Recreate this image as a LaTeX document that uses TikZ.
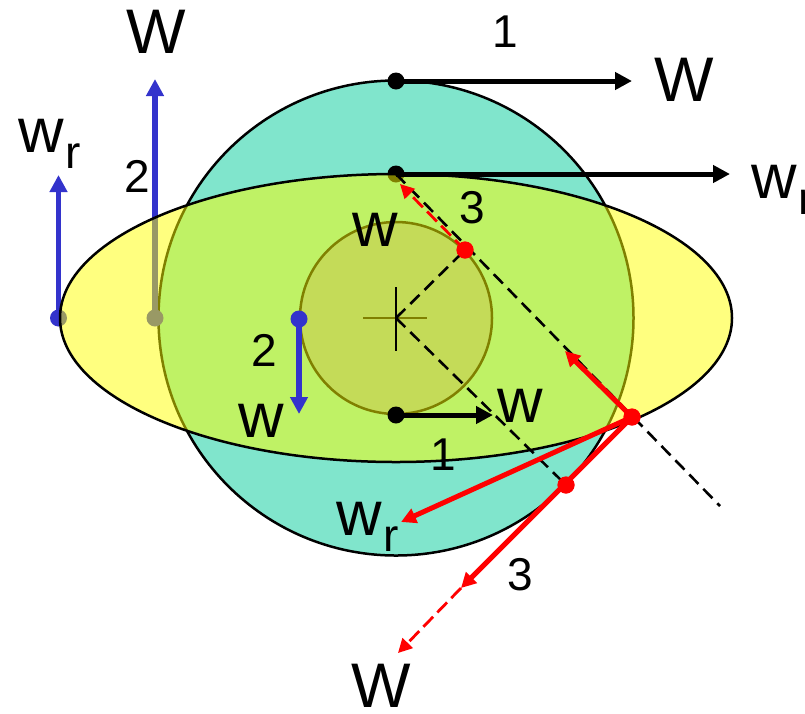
\documentclass[tikz,border=0pt]{standalone}
\usepackage{fontspec}
\setmainfont{Liberation Sans}
\usetikzlibrary{arrows.meta}
\definecolor{tealc}{RGB}{128,229,204}
\definecolor{smallc}{RGB}{137,183,178}
\definecolor{bluec}{RGB}{51,51,204}
\definecolor{redc}{RGB}{255,0,0}
\definecolor{yelc}{RGB}{255,255,0}
\newcommand{\wsub}{w\hspace{2pt}\raisebox{-16pt}{\fontsize{46}{46}\selectfont r}}
\begin{document}
\begin{tikzpicture}[x=1pt,y=-1pt,
  big/.style={font=\fontsize{63}{63}\selectfont, inner sep=0pt},
  num/.style={font=\fontsize{46}{46}\selectfont, inner sep=0pt},
  outline/.style={line width=2.5pt},
  blk/.style={line width=5pt, -{Triangle[length=17pt,width=17pt]}},
  blu/.style={bluec, line width=5.5pt, -{Triangle[length=17pt,width=17pt]}},
  redthick/.style={redc, line width=5pt, -{Triangle[length=15pt,width=15pt]}},
  reddash/.style={redc, line width=2.8pt, dash pattern=on 14pt off 6pt, -{Triangle[length=14pt,width=14pt]}},
  guide/.style={line width=2.6pt, dash pattern=on 13pt off 7pt},
  dotk/.style={circle, fill=black, inner sep=0pt, minimum size=17pt},
  dotb/.style={circle, fill=bluec, inner sep=0pt, minimum size=17pt},
  dotr/.style={circle, fill=redc, inner sep=0pt, minimum size=17pt}]
\useasboundingbox (0,0) rectangle (805,713);
% key points
\coordinate (O) at (396,318);
\coordinate (T1e) at (632,81);
\coordinate (T2e) at (730,174);
\coordinate (T3e) at (493,415);
\coordinate (E) at (720,506);
\coordinate (U) at (565,351);
\coordinate (A1) at (461,588);
\coordinate (A2) at (398,653);
\coordinate (WrT) at (401,522);
\coordinate (T2tip) at (400,184);
\coordinate (B1e) at (58.5,175);
\coordinate (B2e) at (155,79);
\coordinate (B3e) at (299,414);
\coordinate (Hl) at (363,318);
\coordinate (Hr) at (427,318);
\coordinate (Vt) at (396,287);
\coordinate (Vb) at (396,351);
% big circle and small circle
\draw[outline, fill=tealc] (O) circle[radius=237.5];
\draw[outline, fill=smallc] (O) circle[radius=96];
\draw[outline] (Hl) -- (Hr);
% blue arrows under the ellipse
\node[dotb] (b1) at (58.5,318) {};
\node[dotb] (b2) at (155,318) {};
\draw[blu] (b1.center) -- (B1e);
\draw[blu] (b2.center) -- (B2e);
\node[dotk] (t2) at (396,174) {};
% ellipse
\fill[yelc, fill opacity=0.5] (O) ellipse[x radius=336, y radius=144];
\draw[outline] (O) ellipse[x radius=336, y radius=144];
% cross and construction lines
\draw[outline] (Vt) -- (Vb);
\node[dotr] (r) at (465,250) {};
\node[dotr] (p) at (632,417) {};
\node[dotr] (q) at (566,485) {};
\draw[guide] (O) -- (r.center);
\draw[guide] (O) -- (q.center);
\draw[guide] (t2.center) -- (E);
% black arrows
\node[dotk] (t1) at (396,81) {};
\node[dotk] (t3) at (396,415) {};
\draw[blk] (t1.center) -- (T1e);
\draw[blk] (t2.center) -- (T2e);
\draw[blk] (t3.center) -- (T3e);
% blue arrow 2 inside
\node[dotb] (b3) at (299,319) {};
\draw[blu] (b3.center) -- (B3e);
% red arrows
\draw[reddash] (r.center) -- (T2tip);
\draw[redthick] (p.center) -- (U);
\draw[redthick] (p.center) -- (WrT);
\draw[redthick] (p.center) -- (A1);
\draw[reddash] (A1) -- (A2);
\node[dotr] at (r) {};
\node[dotr] at (p) {};
\node[dotr] at (q) {};
% labels
\node[big, anchor=base] (lW1) at (156.5,53) {W};
\node[big, anchor=base west] (lwr1) at (18,152) {\wsub};
\node[num, anchor=base] (l21) at (137,192) {2};
\node[num, anchor=base] (l11) at (505,47) {1};
\node[big, anchor=base] (lW2) at (684.5,101.5) {W};
\node[big, anchor=base west] (lwr2) at (751,198) {\wsub};
\node[big, anchor=base] (lw3) at (375,246) {w};
\node[num, anchor=base] (l31) at (472,223) {3};
\node[num, anchor=base] (l22) at (264.7,366.7) {2};
\node[big, anchor=base] (lw4) at (261.5,437) {w};
\node[big, anchor=base] (lw5) at (520,422) {w};
\node[num, anchor=base] (l12) at (443,470) {1};
\node[big, anchor=base west] (lwr3) at (336,535) {\wsub};
\node[num, anchor=base] (l32) at (520,590) {3};
\node[big, anchor=base] (lW3) at (381.5,707) {W};
\end{tikzpicture}
\end{document}
